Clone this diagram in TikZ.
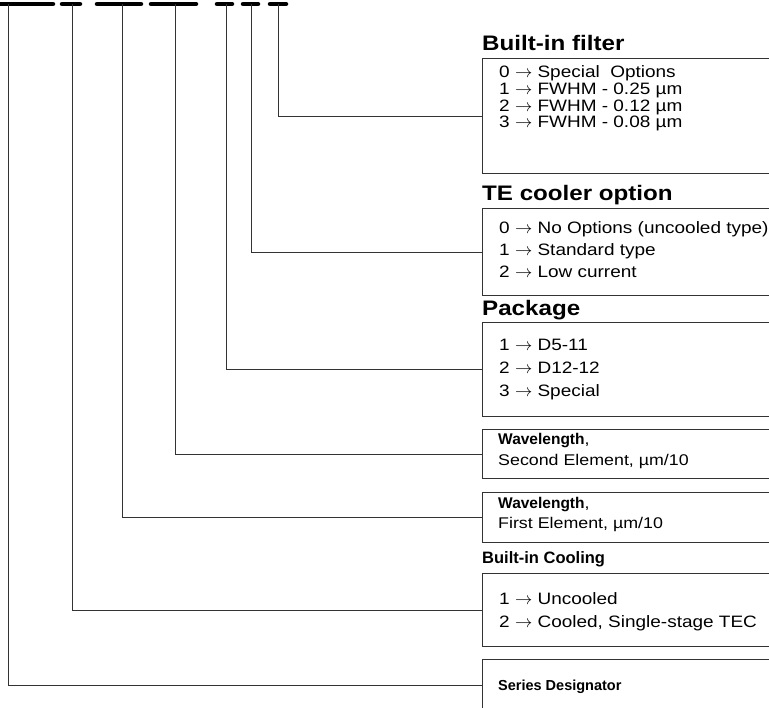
\documentclass[tikz,border=0pt]{standalone}
\usepackage{fontspec}
\setmainfont{Liberation Sans}[FakeStretch=1.15]
\newfontfamily\plainsans{Liberation Sans}
\usetikzlibrary{positioning}

\newcommand{\toarr}{$\rightarrow$}

\begin{document}
\begin{tikzpicture}[
  x=1pt,y=-1pt,
  bar/.style={line width=4.5pt,line cap=round},
  lead/.style={draw=black!80,line width=1pt},
  box/.style={draw=black!80,line width=1.1pt,anchor=north west,minimum width=330pt,inner sep=0pt},
  head/.style={anchor=base west,inner sep=0pt,font=\fontsize{21}{25}\selectfont\bfseries},
  subhead/.style={anchor=base west,inner sep=0pt,font=\plainsans\fontsize{16.5}{19}\selectfont\bfseries},
  item/.style={anchor=base west,inner sep=0pt,font=\fontsize{16.5}{19}\selectfont},
  descr/.style={anchor=base west,inner sep=0pt,font=\fontsize{15.5}{18}\selectfont},
  smallbf/.style={font=\plainsans\fontsize{14.5}{17}\selectfont\bfseries}
]
\useasboundingbox (0,0) rectangle (769,708);

% code bars
\draw[bar] (-3,4) -- (53,4);
\draw[bar] (62,4) -- (80,4);
\draw[bar] (97,4) -- (141,4);
\draw[bar] (151,4) -- (196,4);
\draw[bar] (217,4) -- (232,4);
\draw[bar] (243,4) -- (258,4);
\draw[bar] (270,4) -- (286,4);

\coordinate (dser) at (8,4);
\coordinate (dcool) at (72,4);
\coordinate (dwa) at (122,4);
\coordinate (dwb) at (175,4);
\coordinate (dpkg) at (226,4);
\coordinate (dte) at (251,4);
\coordinate (dfilt) at (278,4);

% boxes
\node[box,minimum height=115pt] (filt) at (482,58) {};
\node[box,minimum height=87pt] (te) at (482,208) {};
\node[box,minimum height=94pt] (pkg) at (482,322) {};
\node[box,minimum height=49pt] (wb) at (482,429) {};
\node[box,minimum height=50pt] (wa) at (482,492) {};
\node[box,minimum height=73pt] (cool) at (482,573) {};
\node[box,minimum height=52pt] (ser) at (482,659) {};

% built-in filter
\node[head] (filthd) at (482,50.5) {Built-in filter};
\node[item] (f0) at (499,78) {0 \toarr{} Special\ \ Options};
\node[item] (f1) at (499,95) {1 \toarr{} FWHM - 0.25 µm};
\node[item] (f2) at (499,111.5) {2 \toarr{} FWHM - 0.12 µm};
\node[item] (f3) at (499,128) {3 \toarr{} FWHM - 0.08 µm};

% TE cooler
\node[head] (tehd) at (482,200.5) {TE cooler option};
\node[item] (t0) at (499,234) {0 \toarr{} No Options (uncooled type)};
\node[item] (t1) at (499,256) {1 \toarr{} Standard type};
\node[item] (t2) at (499,278) {2 \toarr{} Low current};

% package
\node[head] (pkghd) at (482,316) {Package};
\node[item] (p1) at (499,351) {1 \toarr{} D5-11};
\node[item] (p2) at (499,374) {2 \toarr{} D12-12};
\node[item] (p3) at (499,397) {3 \toarr{} Special};

% wavelengths
\node[descr] (wb1) at (498,445) {{\plainsans\fontsize{15.5}{18}\selectfont\bfseries Wavelength},};
\node[descr] (wb2) at (498,466) {Second Element, µm/10};
\node[descr] (wa1) at (498,509) {{\plainsans\fontsize{15.5}{18}\selectfont\bfseries Wavelength},};
\node[descr] (wa2) at (498,529) {First Element, µm/10};

% cooling
\node[subhead] (coolhd) at (482,563) {Built-in Cooling};
\node[item] (c1) at (499,604) {1 \toarr{} Uncooled};
\node[item] (c2) at (499,627) {2 \toarr{} Cooled, Single-stage TEC};

% series
\node[descr,smallbf] (serhd) at (498,690) {Series Designator};

% leads
\draw[lead] (dfilt) |- (filt.west);
\draw[lead] (dte) |- (te.west);
\draw[lead] (dpkg) |- (pkg.west);
\draw[lead] (dwb) |- (wb.west);
\draw[lead] (dwa) |- (wa.west);
\draw[lead] (dcool) |- (cool.west);
\draw[lead] (dser) |- (ser.west);
\end{tikzpicture}
\end{document}
